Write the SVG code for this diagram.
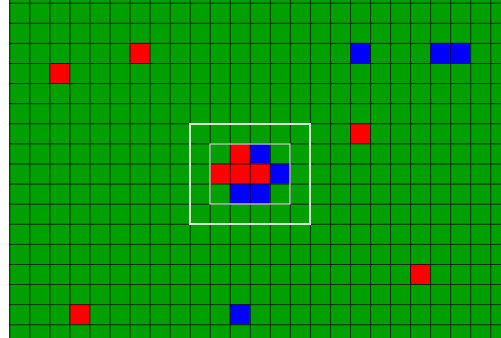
<svg xmlns="http://www.w3.org/2000/svg" width="501" height="338" viewBox="0 0 501 338">
<defs>
<style>
.r{fill:#ff0000}
.b{fill:#0000ff}
.g{stroke:#000;stroke-opacity:0.75;stroke-width:1;fill:none}
.box{fill:none;stroke:#e0e0d8}
</style>
<pattern id="grid" x="9.3" y="2.7" width="20.04" height="20.1" patternUnits="userSpaceOnUse">
<path d="M0.5 0V20.1M0 0.5H20.04" class="g"/>
</pattern>
</defs>
<rect x="0" y="0" width="501" height="338" fill="#fff"/>
<g id="board">
<rect x="9" y="0" width="492" height="338" fill="#00a000"/>
</g>
<g id="cells">
<rect class="r" x="49.4" y="63.0" width="20.04" height="20.1"/>
<rect class="r" x="129.5" y="42.9" width="20.04" height="20.1"/>
<rect class="b" x="350.0" y="42.9" width="20.04" height="20.1"/>
<rect class="b" x="430.1" y="42.9" width="40.08" height="20.1"/>
<rect class="r" x="350.0" y="123.3" width="20.04" height="20.1"/>
<rect class="r" x="229.7" y="143.4" width="20.04" height="20.1"/>
<rect class="b" x="249.8" y="143.4" width="20.04" height="20.1"/>
<rect class="r" x="209.7" y="163.5" width="60.12" height="20.1"/>
<rect class="b" x="269.8" y="163.5" width="20.04" height="20.1"/>
<rect class="b" x="229.7" y="183.6" width="40.08" height="20.1"/>
<rect class="r" x="410.1" y="264.0" width="20.04" height="20.1"/>
<rect class="r" x="69.4" y="304.2" width="20.04" height="20.1"/>
<rect class="b" x="229.7" y="304.2" width="20.04" height="20.1"/>
</g>
<g id="gridlines">
<rect x="9" y="0" width="492" height="338" fill="url(#grid)"/>
</g>
<g id="selection">
<rect class="box" x="190" y="124" width="120" height="100" stroke-width="2"/>
<rect class="box" x="210" y="144" width="80" height="60" stroke-width="1.2"/>
</g>
</svg>
